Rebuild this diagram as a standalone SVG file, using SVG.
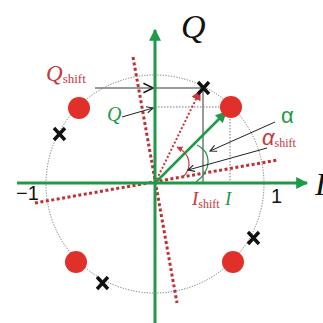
<svg xmlns="http://www.w3.org/2000/svg" width="323" height="323" viewBox="0 0 323 323">
<style>
.serif{font-family:"Liberation Serif","Times New Roman",serif;font-style:italic}
.sub{font-family:"Liberation Serif","Times New Roman",serif;font-style:normal}
.sans{font-family:"Liberation Sans",Arial,sans-serif}
.red{fill:#c8373a}
.green{fill:#1f9a48}
.blk{fill:#111}
.dot{fill:#e1302a}
.xm{stroke:#111;stroke-width:3.4;stroke-linecap:butt}
.raxis{stroke:#bf3036;stroke-width:3;stroke-dasharray:3 2.5;fill:none}
.gaxis{stroke:#1f9a48;stroke-width:3;fill:none}
.gray{stroke:#777;stroke-width:1.5;fill:none}
.grayd{stroke:#777;stroke-width:1;stroke-dasharray:1.5 1.5;fill:none}
.thin{stroke:#222;stroke-width:1;fill:none}
</style>
<defs>
<marker id="ga" viewBox="0 0 10 10" refX="9" refY="5" markerWidth="4.5" markerHeight="4" orient="auto" markerUnits="strokeWidth"><path d="M0,0 L10,5 L0,10 z" fill="#1f9a48"/></marker>
<marker id="gs" viewBox="0 0 10 10" refX="9" refY="5" markerWidth="5" markerHeight="4.5" orient="auto" markerUnits="strokeWidth"><path d="M0,0 L10,5 L0,10 z" fill="#1f9a48"/></marker>
<marker id="ra" viewBox="0 0 10 10" refX="9" refY="5" markerWidth="5" markerHeight="5" orient="auto" markerUnits="strokeWidth"><path d="M0,0 L10,5 L0,10 z" fill="#c8373a"/></marker>
<marker id="ba" viewBox="0 0 10 10" refX="9" refY="5" markerWidth="8" markerHeight="8" orient="auto" markerUnits="strokeWidth"><path d="M1,1 L9,5 L1,9" fill="none" stroke="#222" stroke-width="1.4"/></marker>
</defs>
<rect width="323" height="323" fill="#fff"/>
<g id="unit-circle"><circle cx="155" cy="184" r="109" fill="none" stroke="#555" stroke-width="0.8" stroke-dasharray="1.2 1.5"/></g>
<g id="connectors">
<line class="raxis" x1="35" y1="203" x2="278" y2="160"/>
<line class="raxis" x1="133" y1="57" x2="177" y2="303"/>
<line class="grayd" x1="155" y1="107" x2="230" y2="107"/>
<line class="grayd" x1="230" y1="107" x2="230" y2="183"/>
<path class="gray" d="M95,88 L153,88" marker-end="url(#ba)"/>
<line class="gray" x1="153" y1="88" x2="203" y2="88"/>
<line class="gray" x1="203" y1="88" x2="203" y2="183"/>
<line class="gaxis" x1="155" y1="323" x2="155" y2="30" marker-end="url(#ga)"/>
<line class="gaxis" x1="17" y1="183" x2="307" y2="183" marker-end="url(#ga)"/>
<line x1="155" y1="183" x2="200" y2="91" stroke="#c8373a" stroke-width="2" stroke-dasharray="2 2" marker-end="url(#ra)"/>
<line x1="155" y1="183" x2="226" y2="112" stroke="#1f9a48" stroke-width="2.5" marker-end="url(#gs)"/>
<path d="M197,145 C211,152 213,169 196,182" stroke="#1f9a48" stroke-width="1.2" fill="none"/>
<path d="M182,178 C193,168 191,154 177,147" stroke="#c8373a" stroke-width="1.2" fill="none" marker-end="url(#ra)"/>
<path class="thin" d="M122,117 L153,108" marker-end="url(#ba)"/>
<path class="thin" d="M275,122 L210,151" marker-end="url(#ba)"/>
<path class="thin" d="M267,148 L188,170" marker-end="url(#ba)"/>
</g>
<g id="dots">
<circle class="dot" cx="231" cy="107" r="11"/>
<circle class="dot" cx="79" cy="108" r="11"/>
<circle class="dot" cx="76" cy="262" r="11"/>
<circle class="dot" cx="233" cy="262" r="11"/>
</g>
<g id="crosses">
<path class="xm" d="M198,82 L209,94 M209,82 L198,94"/>
<path class="xm" d="M54,128 L65,140 M65,128 L54,140"/>
<path class="xm" d="M97,277 L108,289 M108,277 L97,289"/>
<path class="xm" d="M248,232 L259,244 M259,232 L248,244"/>
</g>
<g id="labels">
<text class="serif blk" x="181" y="38" font-size="34">Q</text>
<text class="serif blk" x="315" y="195" font-size="32">I</text>
<text class="serif red" x="46" y="81" font-size="23">Q<tspan class="sub" font-size="13" dy="2">shift</tspan></text>
<text class="serif green" x="107" y="121" font-size="20">Q</text>
<text class="sans green" x="281" y="123" font-size="22">α</text>
<text class="sans red" x="262" y="145" font-size="22" font-style="italic">α<tspan class="sub" font-size="12" dy="2">shift</tspan></text>
<text class="serif red" x="192" y="205" font-size="19">I<tspan class="sub" font-size="12" dy="3">shift</tspan></text>
<text class="serif green" x="225" y="205" font-size="19">I</text>
<text class="sans blk" x="16" y="200" font-size="20">−1</text>
<text class="sans blk" x="271" y="203" font-size="20">1</text>
</g>
</svg>
